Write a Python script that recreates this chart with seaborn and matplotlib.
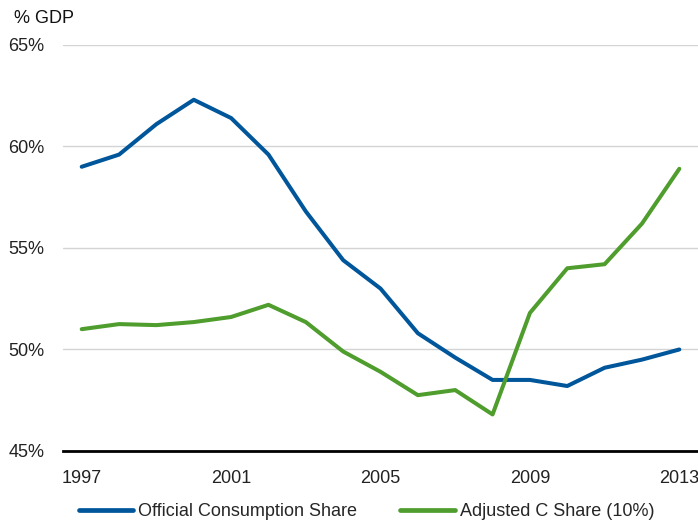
import numpy as np
import pandas as pd
import matplotlib
matplotlib.use("Agg")
import matplotlib.pyplot as plt
import seaborn as sns

years = list(range(1997, 2014))
official_share = [59.0, 59.6, 61.1, 62.3, 61.4, 59.6, 56.8, 54.4, 53.0, 50.8,
                  49.6, 48.5, 48.5, 48.2, 49.1, 49.5, 50.0]
adjusted_share = [51.0, 51.25, 51.2, 51.35, 51.6, 52.2, 51.35, 49.9, 48.9, 47.75,
                  48.0, 46.8, 51.8, 54.0, 54.2, 56.2, 58.9]
series_names = ["Official Consumption Share", "Adjusted C Share (10%)"]
y_ticks = [45, 50, 55, 60, 65]
x_ticks = [1997, 2001, 2005, 2009, 2013]

df = pd.DataFrame({"year": years,
                   series_names[0]: official_share,
                   series_names[1]: adjusted_share})
long_df = df.melt(id_vars="year", var_name="series", value_name="share")

sns.set_style("white")
plt.rcParams["font.family"] = ["Liberation Sans", "DejaVu Sans"]

fig = plt.figure(figsize=(6.98, 5.21), dpi=100)
ax = fig.add_axes([0.0903, 0.1344, 0.9097, 0.7793])

palette = {series_names[0]: "#00569A", series_names[1]: "#4E9D2D"}
sns.lineplot(data=long_df, x="year", y="share", hue="series", hue_order=series_names,
             palette=palette, linewidth=2.9, ax=ax, legend=True)

ax.set_xlim(1996.5, 2013.5)
ax.set_ylim(45, 65)
ax.set_yticks(y_ticks)
ax.set_yticklabels([f"{t}%" for t in y_ticks])
ax.set_xticks(x_ticks)
ax.set_xticklabels([str(t) for t in x_ticks])
ax.set_xlabel("")
ax.set_ylabel("")
ax.grid(axis="y", color="#D4D4D4", linewidth=1.0)
ax.grid(axis="x", visible=False)
ax.set_axisbelow(True)
for side in ["top", "right", "left"]:
    ax.spines[side].set_visible(False)
ax.spines["bottom"].set_color("black")
ax.spines["bottom"].set_linewidth(2.0)
ax.tick_params(axis="both", length=0, labelsize=13, colors="#222222")
ax.tick_params(axis="x", pad=14)
ax.tick_params(axis="y", pad=13.5)

fig.text(0.02, 0.965, "% GDP", fontsize=13, color="#111111", va="center", ha="left")

leg = ax.legend(loc="upper center", bbox_to_anchor=(0.478, -0.11), ncol=2, frameon=False,
                fontsize=13, handlelength=3.0, handletextpad=0.3, columnspacing=2.4,
                borderaxespad=0)
for line in leg.get_lines():
    line.set_linewidth(3.4)

fig.savefig("out.png", dpi=100)
